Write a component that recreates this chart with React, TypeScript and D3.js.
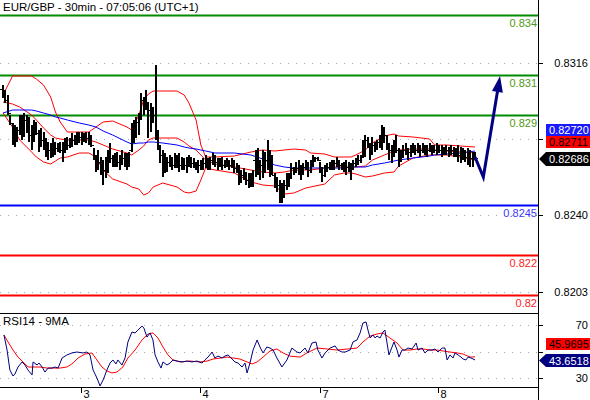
import React from "react";
import * as d3 from "d3";

const title = "EUR/GBP - 30min - 07:05:06 (UTC+1)";
const rsiTitle = "RSI14 - 9MA";

const firstOpen = 0.8303;
const highs = [
  0.8305,0.83025,0.83,0.829,0.8286,0.8285,0.8284,0.829,0.829,0.8291,
  0.829,0.8289,0.8285,0.82875,0.82865,0.82825,0.82835,0.82815,0.82785,0.82765,
  0.8276,0.82785,0.82765,0.8276,0.82765,0.82765,0.82785,0.8279,0.82785,0.8281,
  0.828,0.82815,0.82815,0.82815,0.8281,0.82815,0.82815,0.828,0.82735,0.827,
  0.82725,0.8269,0.82675,0.8269,0.82725,0.8276,0.827,0.8271,0.82715,0.827,
  0.82725,0.8271,0.8271,0.82715,0.8286,0.82875,0.8289,0.8291,0.8301,0.8299,
  0.83025,0.82965,0.8296,0.8294,0.8315,0.82825,0.8275,0.82725,0.8271,0.8269,
  0.827,0.8269,0.8271,0.827,0.8271,0.8269,0.82685,0.8269,0.827,0.8269,
  0.82685,0.82665,0.82675,0.82675,0.82685,0.827,0.82685,0.8269,0.8271,0.827,
  0.82685,0.82685,0.8269,0.82675,0.82685,0.82675,0.82685,0.82675,0.8266,0.8265,
  0.82625,0.82635,0.82615,0.8261,0.8261,0.82625,0.82725,0.82735,0.82675,0.82725,
  0.82715,0.82775,0.82725,0.827,0.8261,0.8259,0.82575,0.8256,0.82575,0.8261,
  0.8261,0.8266,0.8264,0.82665,0.82675,0.8265,0.8266,0.82675,0.82665,0.82675,
  0.827,0.8269,0.8269,0.82665,0.8264,0.8265,0.8266,0.82665,0.82675,0.82675,
  0.8269,0.82675,0.8266,0.82665,0.82675,0.82665,0.8266,0.82675,0.82685,0.827,
  0.827,0.82775,0.828,0.8279,0.8276,0.8279,0.82765,0.82775,0.828,0.8285,
  0.8284,0.828,0.8276,0.8275,0.82775,0.828,0.82735,0.82725,0.8275,0.8276,
  0.82735,0.8275,0.8276,0.8275,0.8276,0.8275,0.8276,0.8275,0.8275,0.8276,
  0.8275,0.8275,0.8276,0.8275,0.8275,0.8274,0.8275,0.8274,0.8275,0.8274,
  0.82735,0.8275,0.8274,0.82735,0.82725,0.82735,0.82725,0.82715,0.82715,
];
const lows = [
  0.82985,0.8296,0.829,0.8285,0.8275,0.8274,0.82765,0.828,0.82775,0.8279,
  0.8281,0.82765,0.82725,0.82765,0.828,0.82715,0.8274,0.82725,0.8269,0.82675,
  0.82685,0.8269,0.827,0.82715,0.8271,0.82665,0.8271,0.82725,0.82735,0.8274,
  0.8275,0.8275,0.8276,0.8275,0.82765,0.8276,0.8275,0.8274,0.82675,0.82615,
  0.82625,0.826,0.8255,0.82585,0.8261,0.8266,0.8264,0.8264,0.8264,0.82625,
  0.8265,0.8264,0.82625,0.8264,0.82715,0.8276,0.82785,0.828,0.82875,0.829,
  0.82925,0.82785,0.82815,0.8286,0.82775,0.82725,0.8266,0.8259,0.8261,0.82615,
  0.8264,0.82625,0.82635,0.82635,0.82615,0.82625,0.82625,0.8261,0.8264,0.82635,
  0.82635,0.82625,0.8261,0.82625,0.82625,0.82635,0.82625,0.82625,0.8265,0.8264,
  0.82625,0.8264,0.82625,0.82635,0.8264,0.82625,0.82635,0.8261,0.8261,0.8255,
  0.8256,0.82575,0.8255,0.82535,0.8254,0.8254,0.8259,0.826,0.82575,0.82585,
  0.8261,0.82625,0.8259,0.826,0.82535,0.82515,0.8246,0.8246,0.82485,0.82525,
  0.8254,0.82585,0.826,0.8261,0.826,0.82575,0.826,0.82625,0.8259,0.8261,
  0.8264,0.82665,0.82675,0.8261,0.82565,0.8259,0.82615,0.82625,0.82625,0.82625,
  0.8264,0.82625,0.82625,0.82615,0.826,0.82615,0.82575,0.82625,0.8264,0.8265,
  0.8266,0.8269,0.8269,0.82735,0.82675,0.827,0.82715,0.82725,0.82735,0.82725,
  0.8276,0.82725,0.82675,0.8266,0.8269,0.8271,0.8264,0.82665,0.82685,0.827,
  0.82675,0.8269,0.8271,0.827,0.8271,0.8269,0.8271,0.827,0.8269,0.82715,
  0.827,0.8271,0.827,0.8271,0.8269,0.827,0.827,0.8269,0.827,0.8269,
  0.8269,0.82665,0.8266,0.82675,0.82665,0.8265,0.8264,0.8264,0.82675,
];
const closes = [
  0.83015,0.82975,0.8291,0.8286,0.828,0.82775,0.82825,0.82875,0.82825,0.82875,
  0.8285,0.828,0.82825,0.82835,0.8281,0.82775,0.82775,0.8275,0.82725,0.82725,
  0.82735,0.8274,0.82735,0.8274,0.82725,0.82735,0.82765,0.8275,0.82775,0.82775,
  0.82785,0.82785,0.8279,0.82775,0.8279,0.82785,0.82775,0.8275,0.827,0.82675,
  0.82665,0.8265,0.82625,0.8265,0.827,0.82685,0.82675,0.82685,0.82665,0.82675,
  0.82685,0.82675,0.8265,0.82725,0.82825,0.8285,0.82865,0.829,0.82975,0.8295,
  0.82935,0.82925,0.829,0.829,0.828,0.8275,0.827,0.82675,0.82665,0.82665,
  0.82675,0.8265,0.82675,0.82665,0.8265,0.82665,0.8265,0.82665,0.82675,0.8266,
  0.8266,0.8265,0.8265,0.8266,0.8266,0.82675,0.8265,0.82675,0.82685,0.82665,
  0.8266,0.82665,0.8265,0.8266,0.8266,0.8265,0.8265,0.82635,0.82625,0.826,
  0.826,0.8259,0.82575,0.82575,0.8259,0.82675,0.827,0.82625,0.8265,0.82675,
  0.82675,0.82675,0.8265,0.826,0.82575,0.8255,0.82525,0.82525,0.8255,0.82575,
  0.82585,0.82635,0.82625,0.82635,0.82625,0.82615,0.8264,0.8265,0.82625,0.8266,
  0.82685,0.82685,0.82675,0.82625,0.826,0.82625,0.8264,0.8265,0.8265,0.8266,
  0.82665,0.8265,0.8264,0.8265,0.8264,0.82635,0.8264,0.8266,0.82675,0.82675,
  0.8269,0.8276,0.82775,0.8275,0.82735,0.8275,0.8274,0.82765,0.82775,0.828,
  0.828,0.8275,0.82725,0.82725,0.8275,0.82725,0.827,0.827,0.82725,0.82725,
  0.82715,0.82725,0.82735,0.82725,0.82735,0.82725,0.82735,0.82725,0.82725,0.82735,
  0.82725,0.82725,0.82725,0.82725,0.82715,0.82725,0.82725,0.82715,0.82725,0.82715,
  0.8271,0.827,0.827,0.827,0.8269,0.827,0.82685,0.8269,0.82686,
];

const indIdx = [0,4,7,12,14,17,20,22,24,27,32,36,39,42,46,52,54,57,59,61,63,67,73,76,78,81,83,85,89,97,104,109,114,118,122,127,129,135,139,143,146,148,152,155,160,164,166,172,179,181,186,192,198];
const bbUpper = [0.83,0.83095,0.83095,0.83095,0.8308,0.8305,0.8299,0.82915,0.82865,0.82815,0.82815,0.82815,0.8284,0.82865,0.8287,0.8284,0.82825,0.829,0.82975,0.83005,0.8302,0.8302,0.8302,0.83,0.8296,0.82875,0.8275,0.8269,0.8269,0.82695,0.82715,0.82725,0.8272,0.82725,0.8273,0.82725,0.8271,0.82705,0.8269,0.8269,0.8269,0.827,0.82725,0.8276,0.82795,0.82805,0.82795,0.8279,0.8278,0.8275,0.8275,0.82745,0.8274];
const bbMiddle = [0.82965,0.82955,0.8294,0.829,0.82875,0.82835,0.828,0.82785,0.8278,0.82775,0.82775,0.82775,0.82765,0.8275,0.8273,0.8271,0.827,0.82725,0.82745,0.82775,0.82785,0.82785,0.82785,0.82765,0.82745,0.82725,0.827,0.82675,0.82655,0.8264,0.82625,0.82615,0.8261,0.82615,0.82625,0.82625,0.82625,0.82635,0.8264,0.8264,0.8264,0.8264,0.82645,0.82675,0.827,0.8272,0.82725,0.8273,0.8273,0.82725,0.8272,0.82715,0.82711];
const bbLower = [0.8291,0.8284,0.82775,0.82715,0.8269,0.82665,0.82655,0.8267,0.82685,0.8269,0.8271,0.8271,0.8269,0.82625,0.8258,0.82555,0.8254,0.8253,0.825,0.8251,0.8254,0.8256,0.8254,0.82515,0.8251,0.8252,0.82575,0.82635,0.82625,0.8261,0.82565,0.8255,0.82545,0.82505,0.8251,0.82535,0.8254,0.82555,0.826,0.8261,0.8261,0.82605,0.8259,0.82595,0.8261,0.82615,0.82645,0.82685,0.827,0.827,0.827,0.8269,0.82675];
const maBlue = [0.8291,0.82925,0.82925,0.82925,0.8292,0.8291,0.829,0.8289,0.82885,0.82875,0.8286,0.8285,0.8284,0.8282,0.828,0.82765,0.82755,0.8276,0.8276,0.82765,0.82765,0.8276,0.8275,0.8274,0.82735,0.8273,0.82725,0.8272,0.8271,0.8271,0.827,0.8268,0.8265,0.8264,0.82635,0.82635,0.82635,0.82635,0.82635,0.82635,0.8264,0.8264,0.8264,0.8265,0.8266,0.8267,0.82675,0.82685,0.82695,0.827,0.82705,0.8271,0.8272];

const rsiIdx = [0.4,1.7,2.9,4.2,5.0,6.3,8.0,9.2,10.5,12.2,12.6,14.3,15.1,16.4,17.6,18.9,20.6,21.8,23.1,24.8,26.8,28.9,31.0,33.6,35.2,36.5,37.8,39.4,40.7,42.0,43.6,44.9,46.1,47.4,48.2,49.9,51.2,52.4,54.1,55.4,56.6,58.3,59.1,60.4,61.7,62.9,63.8,65.0,66.3,67.1,68.8,70.1,71.3,73.0,75.1,77.2,79.3,81.4,83.5,84.7,86.0,87.7,88.9,90.2,91.9,93.1,94.4,96.1,97.3,98.6,100.3,101.5,102.4,103.6,104.9,106.6,107.8,109.1,110.7,112.0,113.3,114.9,117.0,119.1,121.2,123.3,124.6,126.7,127.9,129.6,131.3,132.1,133.8,135.1,137.2,139.3,140.5,142.2,143.5,145.6,146.8,148.5,149.8,151.0,152.3,153.1,154.0,155.2,156.1,156.9,158.2,159.4,160.2,161.1,161.9,163.2,164.0,165.3,166.1,167.4,168.6,169.9,171.6,173.3,174.1,175.8,177.0,178.3,180.0,181.2,182.5,184.2,185.4,186.3,187.5,188.8,189.6,190.9,192.1,193.0,194.2,195.1,196.3,198];
const rsiVals = [62.5,51.1,36.0,31.5,33.0,38.3,42.1,39.8,36.0,32.3,42.1,39.8,41.3,38.3,34.5,37.5,37.5,38.3,37.5,45.1,47.4,48.9,49.6,48.9,49.6,47.4,36.0,30.0,24.0,28.5,36.0,41.3,43.6,40.6,43.6,39.8,45.1,57.2,64.7,64.0,66.2,69.2,67.7,60.9,64.0,58.7,47.4,42.1,37.5,42.1,39.8,41.3,43.6,42.8,42.1,42.8,42.1,42.8,41.3,43.6,45.8,49.6,45.1,46.6,45.1,46.6,47.4,44.3,42.1,41.3,38.3,41.3,33.8,41.3,51.1,58.7,53.4,48.9,53.4,52.6,51.1,45.1,38.3,43.6,52.6,49.6,48.9,52.6,48.9,56.4,57.2,51.1,45.1,48.9,52.6,54.2,51.1,49.6,49.6,51.1,57.2,58.7,64.0,71.5,72.3,66.2,60.2,62.5,60.2,61.7,60.2,64.7,66.2,56.4,47.4,53.4,57.2,51.1,45.8,51.1,51.1,52.6,51.9,56.4,51.1,52.6,48.9,51.1,51.1,51.9,49.6,52.6,52.6,43.6,47.4,45.1,48.9,47.4,45.8,44.3,43.6,45.8,45.1,43.6518];
const rsiMaIdx = [0.4,2.1,4.2,6.3,8.4,10.5,12.6,15.5,18.5,21.0,23.9,26.8,28.9,31.5,34.4,37.3,39.4,41.5,43.6,45.7,47.8,50.3,52.4,55.4,58.3,60.8,62.9,65.0,67.1,69.2,71.3,74.3,78.4,82.6,85.6,88.1,94.0,96.5,99.4,102.4,104.5,106.6,109.1,112.0,114.9,117.5,120.4,124.6,127.5,131.7,135.9,140.1,144.7,148.5,151.0,154.0,156.9,159.4,162.3,165.3,167.8,170.7,173.7,176.2,179.1,182.1,184.6,187.5,190.5,193.0,195.9,198];
const rsiMaVals = [62.5,57.2,51.1,45.8,42.1,38.3,38.3,38.3,37.5,37.5,37.5,38.3,40.6,45.1,48.1,48.9,43.6,38.3,35.3,33.8,34.5,38.3,45.1,51.1,58.7,63.2,64.0,60.2,53.4,47.4,43.6,42.1,42.8,42.1,42.8,44.3,45.8,45.1,44.3,42.1,40.6,42.1,45.8,50.4,51.9,48.9,46.5,45.8,48.9,52.6,51.9,51.1,51.9,52.6,57.2,61.7,63.2,64.0,60.2,56.4,51.1,51.1,51.9,51.9,51.1,51.1,50.4,49.6,48.9,48.1,45.8,45.9695];

const forecastIdx = [198, 201.5, 208.5];
const forecastVals = [0.8269, 0.8259, 0.83095];

const levelValues = [0.834, 0.831, 0.829, 0.8245, 0.822, 0.82];
const levelLabels = ["0.834", "0.831", "0.829", "0.8245", "0.822", "0.82"];
const levelKinds = ["res", "res", "res", "pivot", "sup", "sup"];

// the 0.8278 tick is hidden behind the value boxes in the reference
const yTickValues = [0.8316, 0.8278, 0.824, 0.82015];
const yTickLabels = ["0.8316", "", "0.8240", "0.8203"];
const rsiTickValues = [70, 50, 30];
const rsiTickLabels = ["70", "", "30"];

const dayTickIdx = [32.7, 82.6, 133.0, 182.5];
const dayLabels = ["3", "4", "7", "8"];

const FONT = "'Liberation Sans', Arial, sans-serif";

export default function App() {
  const W = 590, H = 400;
  const axisX = 538;
  const mainBottom = 313;
  const rsiBottom = 387;

  const x = d3.scaleLinear().domain([0, 198]).range([3, 475]);
  const y = d3.scaleLinear().domain([0.8203, 0.8316]).range([289, 63]);
  const yr = d3.scaleLinear().domain([30, 70]).range([378, 325]);

  const kindColor: Record<string, string> = { res: "#008c00", pivot: "#0000ff", sup: "#ff0000" };
  const labelColor: Record<string, string> = { res: "#4f9a14", pivot: "#3a3aff", sup: "#ff2020" };

  const priceLine = d3.line<number>().x((_, i) => x(indIdx[i])).y((d) => y(d));
  const rsiLine = d3.line<number>().x((_, i) => x(rsiIdx[i])).y((d) => yr(d));
  const rsiMaLine = d3.line<number>().x((_, i) => x(rsiMaIdx[i])).y((d) => yr(d));
  const fcLine = d3.line<number>().x((_, i) => x(forecastIdx[i])).y((d) => y(d));

  const opens = closes.map((c, i) => (i === 0 ? firstOpen : closes[i - 1]));

  const n = forecastIdx.length;
  const tipX = x(forecastIdx[n - 1]);
  const tipY = y(forecastVals[n - 1]);
  const px = x(forecastIdx[n - 2]);
  const py = y(forecastVals[n - 2]);
  const ang = Math.atan2(tipY - py, tipX - px);
  const hl = 16, hw = 5.5;
  const bx = tipX - hl * Math.cos(ang);
  const by = tipY - hl * Math.sin(ang);
  const head = [
    [tipX, tipY],
    [bx + hw * Math.sin(ang), by - hw * Math.cos(ang)],
    [bx - hw * Math.sin(ang), by + hw * Math.cos(ang)],
  ];
  const lineEndX = tipX - (hl - 2) * Math.cos(ang);
  const lineEndY = tipY - (hl - 2) * Math.sin(ang);
  const fcPath = fcLine(forecastVals.slice(0, n - 1)) + `L${lineEndX},${lineEndY}`;

  const lastMa = maBlue[maBlue.length - 1].toFixed(5);
  const lastMid = bbMiddle[bbMiddle.length - 1].toFixed(5);
  const lastClose = closes[closes.length - 1].toFixed(5);
  const lastRsiMa = rsiMaVals[rsiMaVals.length - 1].toFixed(4);
  const lastRsi = rsiVals[rsiVals.length - 1].toFixed(4);

  return (
    <svg width={W} height={H} style={{ position: "absolute", left: 0, top: 0, background: "#fff" }} fontFamily={FONT}>
      <defs>
        <clipPath id="mainClip"><rect x={0} y={0} width={axisX} height={mainBottom} /></clipPath>
        <clipPath id="rsiClip"><rect x={0} y={mainBottom + 1} width={axisX} height={rsiBottom - mainBottom - 1} /></clipPath>
      </defs>
      <rect x={0} y={0} width={W} height={H} fill="#fff" />

      {yTickValues.map((t, i) => (
        <line key={"g" + i} x1={0} x2={axisX} y1={Math.round(y(t)) + 0.5} y2={Math.round(y(t)) + 0.5} stroke="#a8a8a8" strokeDasharray="1,7" />
      ))}
      {rsiTickValues.map((t, i) => (
        <line key={"rg" + i} x1={0} x2={axisX} y1={Math.round(yr(t)) + 0.5} y2={Math.round(yr(t)) + 0.5} stroke="#a8a8a8" strokeDasharray="1,7" />
      ))}

      <g clipPath="url(#mainClip)">
        {levelValues.map((v, i) => (
          <line key={"lv" + i} x1={0} x2={axisX} y1={Math.round(y(v)) + 0.5} y2={Math.round(y(v)) + 0.5} stroke={kindColor[levelKinds[i]]} strokeWidth={2} />
        ))}
        {levelValues.map((v, i) => (
          <text key={"lt" + i} x={537} y={Math.round(y(v)) + 12} fontSize={11} textAnchor="end" fill={labelColor[levelKinds[i]]}>{levelLabels[i]}</text>
        ))}

        <path d={priceLine(bbUpper) || ""} fill="none" stroke="#ff0000" strokeWidth={1} />
        <path d={priceLine(bbMiddle) || ""} fill="none" stroke="#ff0000" strokeWidth={1} />
        <path d={priceLine(bbLower) || ""} fill="none" stroke="#ff0000" strokeWidth={1} />
        <path d={priceLine(maBlue) || ""} fill="none" stroke="#0000ff" strokeWidth={1} />

        {highs.map((h, i) => {
          const xi = Math.round(x(i));
          const yo = Math.round(y(opens[i])) + 0.5;
          const yc = Math.round(y(closes[i])) + 0.5;
          return (
            <g key={"b" + i} stroke="#000" shapeRendering="crispEdges">
              <line x1={xi} x2={xi} y1={Math.round(y(h))} y2={Math.round(y(lows[i]))} strokeWidth={2} />
              <line x1={xi - 3} x2={xi} y1={yo} y2={yo} strokeWidth={1} />
              <line x1={xi} x2={xi + 3} y1={yc} y2={yc} strokeWidth={1} />
            </g>
          );
        })}

        <path d={fcPath} fill="none" stroke="#000080" strokeWidth={3} strokeLinejoin="miter" />
        <polygon points={head.map((p) => p.join(",")).join(" ")} fill="#000080" />
      </g>

      <text x={3} y={11} fontSize={11.5} fill="#000">{title}</text>

      <g clipPath="url(#rsiClip)">
        <path d={rsiMaLine(rsiMaVals) || ""} fill="none" stroke="#ff0000" strokeWidth={1} />
        <path d={rsiLine(rsiVals) || ""} fill="none" stroke="#000080" strokeWidth={1} />
      </g>
      <text x={3} y={325} fontSize={11.5} fill="#000">{rsiTitle}</text>

      <line x1={0} x2={axisX} y1={mainBottom + 0.5} y2={mainBottom + 0.5} stroke="#000" />
      <line x1={0} x2={axisX} y1={rsiBottom + 0.5} y2={rsiBottom + 0.5} stroke="#000" />
      <line x1={axisX + 0.5} x2={axisX + 0.5} y1={0} y2={H} stroke="#000" />

      {yTickValues.map((t, i) => (
        <g key={"yt" + i}>
          <line x1={axisX} x2={axisX + 5} y1={Math.round(y(t)) + 0.5} y2={Math.round(y(t)) + 0.5} stroke="#000" />
          {yTickLabels[i] && (
            <text x={588} y={Math.round(y(t)) + 4} fontSize={11} textAnchor="end" fill="#000">{yTickLabels[i]}</text>
          )}
        </g>
      ))}
      {rsiTickValues.map((t, i) => (
        <g key={"rt" + i}>
          <line x1={axisX} x2={axisX + 5} y1={Math.round(yr(t)) + 0.5} y2={Math.round(yr(t)) + 0.5} stroke="#000" />
          {rsiTickLabels[i] && (
            <text x={588} y={Math.round(yr(t)) + 4} fontSize={11} textAnchor="end" fill="#000">{rsiTickLabels[i]}</text>
          )}
        </g>
      ))}

      <rect x={546} y={124} width={44} height={12} fill="#1a1aff" />
      <text x={549} y={134} fontSize={11} fill="#fff">{lastMa}</text>
      <rect x={546} y={136} width={44} height={12} fill="#ff0000" />
      <text x={549} y={146} fontSize={11} fill="#000">{lastMid}</text>
      <polygon points={`539,159 546,152 590,152 590,166 546,166`} fill="#000" />
      <text x={549} y={163} fontSize={11} fill="#fff">{lastClose}</text>

      <rect x={546} y={338} width={44} height={12} fill="#ff0000" />
      <text x={549} y={348} fontSize={11} fill="#000">{lastRsiMa}</text>
      <polygon points={`539,360.5 546,354 590,354 590,367 546,367`} fill="#000080" />
      <text x={549} y={364.5} fontSize={11} fill="#fff">{lastRsi}</text>

      {dayTickIdx.map((d, i) => {
        const xx = Math.round(x(d)) + 0.5;
        return (
          <g key={"d" + i}>
            <line x1={xx} x2={xx} y1={rsiBottom + 1} y2={rsiBottom + 6} stroke="#000" />
            <text x={xx + 2} y={398} fontSize={11} fill="#000">{dayLabels[i]}</text>
          </g>
        );
      })}
    </svg>
  );
}
